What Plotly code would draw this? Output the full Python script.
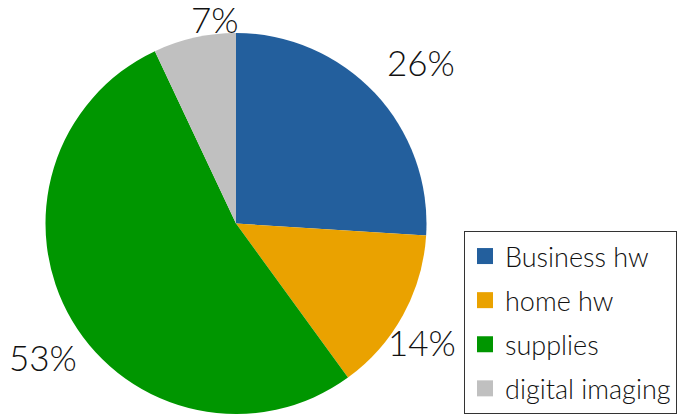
import math
import plotly.graph_objects as go

# Revenue share by segment
segments = ["Business hw", "home hw", "supplies", "digital imaging"]
shares = [26, 14, 53, 7]
colors = ["#235F9D", "#EAA200", "#009600", "#C0C0C0"]

# Percent label placement around the pie: radial distance (in radii)
# and a small angular nudge (degrees) from each slice's mid-angle
label_dist = [1.29, 1.157, 1.232, 1.08]
label_nudge = [2.1, 3.7, -4.1, 6.8]

W, H = 683, 414
MT, MB = 33, 0
FONT = "Lato"
DOM_X = [0, 472 / W]

fig = go.Figure()

fig.add_trace(go.Pie(
    labels=segments,
    values=shares,
    sort=False,
    direction="clockwise",
    rotation=0,
    marker=dict(colors=colors, line=dict(width=0)),
    textinfo="none",
    domain=dict(x=DOM_X, y=[0, 1]),
    showlegend=False,
    hoverinfo="label+percent",
))

# Pie geometry in pixels (same rule plotly uses: radius = half the shorter domain side)
plot_h = H - MT - MB
dom_w = (DOM_X[1] - DOM_X[0]) * W
radius = min(dom_w, plot_h) / 2
cx = (DOM_X[0] + DOM_X[1]) / 2 * W
cy = MT + plot_h / 2

total = sum(shares)
start = 0.0
for share, dist, nudge in zip(shares, label_dist, label_nudge):
    mid = (start + share / 2) / total * 360 + nudge
    start += share
    a = math.radians(mid)
    px = cx + math.sin(a) * radius * dist
    py = cy - math.cos(a) * radius * dist
    fig.add_annotation(
        x=px / W, y=(H - MB - py) / plot_h, xref="paper", yref="paper",
        text=f"{round(share / total * 100)}%", showarrow=False,
        xanchor="center", yanchor="middle",
        font=dict(family=FONT, size=35, color="#111111", weight=300),
    )

# Legend entries, one group each so the rows get extra spacing
for name, col in zip(segments, colors):
    fig.add_trace(go.Scatter(
        x=[None], y=[None], mode="markers", name=name,
        legendgroup=name,
        marker=dict(symbol="square", size=16, color=col),
    ))

fig.update_layout(
    width=W, height=H,
    margin=dict(l=0, r=0, t=MT, b=MB, autoexpand=False),
    paper_bgcolor="white",
    plot_bgcolor="white",
    xaxis=dict(visible=False),
    yaxis=dict(visible=False),
    font=dict(family=FONT, color="#111111"),
    legend=dict(
        x=464 / W, y=(H - 231) / plot_h,
        xref="paper", yref="paper",
        xanchor="left", yanchor="top",
        bordercolor="#333333", borderwidth=1,
        bgcolor="white",
        font=dict(family=FONT, size=27, color="#111111", weight=300),
        traceorder="grouped",
        tracegroupgap=6,
    ),
)

fig.write_html("out.html")
